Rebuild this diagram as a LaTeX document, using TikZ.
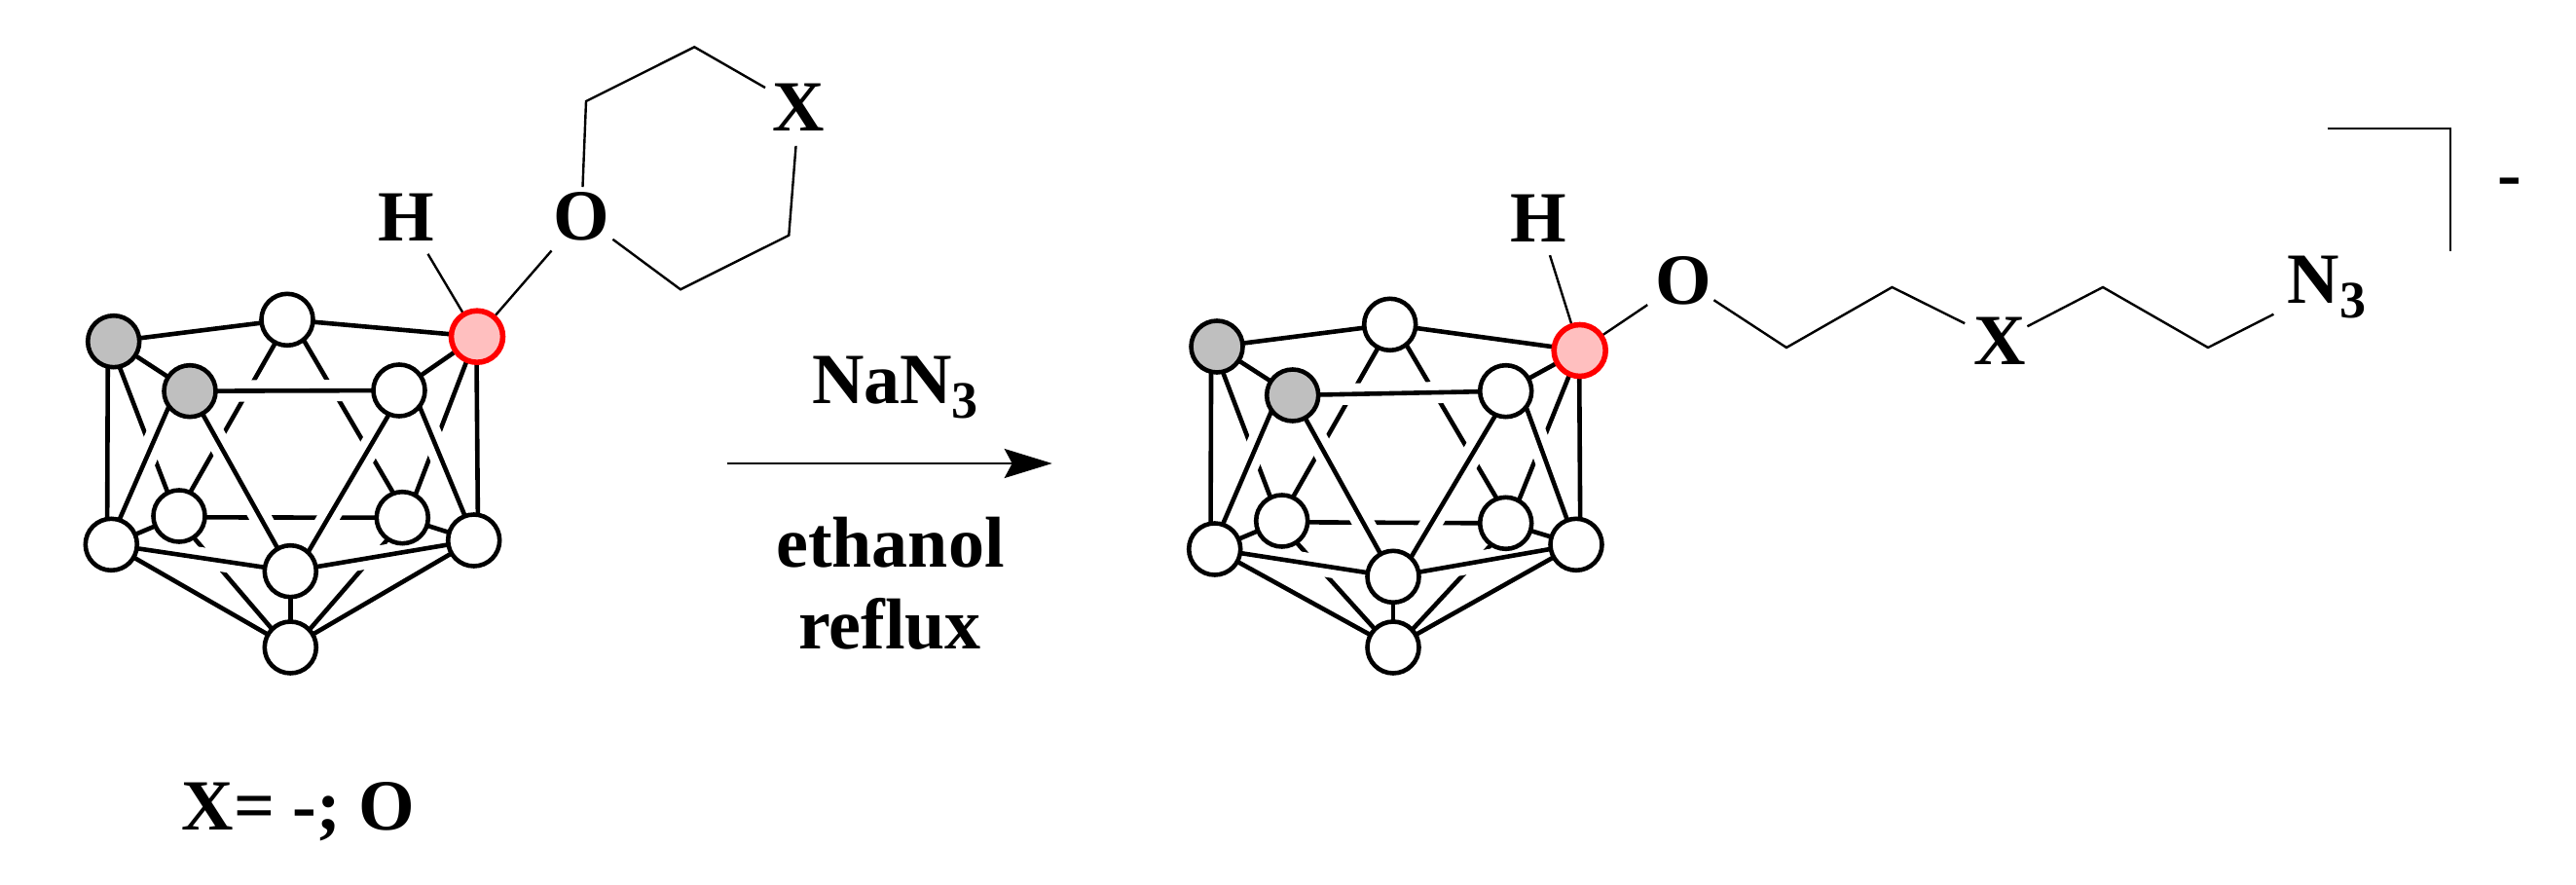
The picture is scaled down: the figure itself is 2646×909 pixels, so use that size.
\documentclass[tikz,border=0pt]{standalone}
\usepackage{fontspec}
\setmainfont{Liberation Serif}
\usetikzlibrary{arrows.meta,backgrounds}
\newcommand{\subthree}{\raisebox{-7.5pt}{\fontsize{27}{27}\selectfont 3}}
\tikzset{
  cagebond/.style={line width=2.3pt},
  hiddenbond/.style={line width=2.3pt},
  halobond/.style={draw=white,line width=11pt},
  thinbond/.style={line width=1.2pt},
  boron/.style={circle,draw,line width=2.3pt,fill=white,inner sep=0pt,outer sep=0pt,minimum size=26.5pt},
  carbon/.style={boron,fill=gray!50!white},
  active/.style={boron,draw=red,fill=red!25!white,line width=2.8pt},
  atom/.style={circle,inner sep=0pt,outer sep=0pt,minimum size=40pt,font=\bfseries\fontsize{37}{42}\selectfont},
  label/.style={font=\bfseries\fontsize{37}{42}\selectfont,anchor=base,inner sep=0pt}
}
\newcommand{\cagebonds}[1]{
  % hidden edges first, then a white halo, then the front edges
  \draw[hiddenbond] (#1a.-77) to (#1i.116);
  \draw[hiddenbond] (#1t.-117) to (#1i.65);
  \draw[hiddenbond] (#1t.-51) to (#1j.110);
  \draw[hiddenbond] (#1r.-113) to (#1j.60);
  \draw[hiddenbond] (#1i.-3) to (#1j.180);
  \draw[hiddenbond] (#1i.-56) to (#1p.135);
  \draw[hiddenbond] (#1j.-124) to (#1p.43);
  \draw[halobond] (#1b) to (#1f);
  \draw[halobond] (#1b.-144) to (#1l.72);
  \draw[halobond] (#1b) to (#1c);
  \draw[halobond] (#1f.-113) to (#1c.47);
  \draw[halobond] (#1f.-38) to (#1s.110);
  \draw[halobond] (#1l) to (#1c);
  \draw[halobond] (#1s) to (#1c);
  \draw[cagebond] (#1a) to (#1b);
  \draw[cagebond] (#1a) to (#1t);
  \draw[cagebond] (#1t) to (#1r);
  \draw[cagebond] (#1r) to (#1f);
  \draw[cagebond] (#1b) to (#1f);
  \draw[cagebond] (#1a.-103) to (#1l.99);
  \draw[cagebond] (#1r.-91) to (#1s.81);
  \draw[cagebond] (#1b.-144) to (#1l.72);
  \draw[cagebond] (#1b) to (#1c);
  \draw[cagebond] (#1f.-113) to (#1c.47);
  \draw[cagebond] (#1f.-38) to (#1s.110);
  \draw[cagebond] (#1l) to (#1c);
  \draw[cagebond] (#1s) to (#1c);
  \draw[cagebond] (#1l) to (#1p);
  \draw[cagebond] (#1s) to (#1p);
  \draw[cagebond] (#1c) to (#1p);
  \draw[cagebond] (#1l) to (#1i);
  \draw[cagebond] (#1s) to (#1j);
}
\begin{document}
\begin{tikzpicture}[x=0.5pt,y=-0.5pt]
  \useasboundingbox (0,0) rectangle (2646,909);
  % left cage
  \node[carbon] (la) at (116.7,350.7) {};
  \node[carbon] (lb) at (195,401.7) {};
  \node[boron] (lt) at (295,328.3) {};
  \node[active] (lr) at (490,345.7) {};
  \node[boron] (lf) at (410,401) {};
  \node[boron] (ll) at (114.3,559.3) {};
  \node[boron] (li) at (184,530) {};
  \node[boron] (lj) at (413.3,531.7) {};
  \node[boron] (ls) at (486.7,555) {};
  \node[boron] (lc) at (298.3,586.7) {};
  \node[boron] (lp) at (298.3,665) {};
  % right cage
  \node[carbon] (ra) at (1250,356) {};
  \node[carbon] (rb) at (1327.7,406) {};
  \node[boron] (rt) at (1427.7,333.3) {};
  \node[active] (rr) at (1622.7,360) {};
  \node[boron] (rf) at (1546.7,401.7) {};
  \node[boron] (rl) at (1247.7,564) {};
  \node[boron] (ri) at (1316.7,535) {};
  \node[boron] (rj) at (1546.7,537.3) {};
  \node[boron] (rs) at (1619,559.3) {};
  \node[boron] (rc) at (1431,592.3) {};
  \node[boron] (rp) at (1431,665) {};
  % left substituent
  \node[atom] (hl) at (417,223) {H};
  \node[atom] (ol) at (597.3,222) {O};
  \node[atom] (xl) at (820.7,110) {X};
  \coordinate (ring1) at (602,104);
  \coordinate (ring2) at (713.3,48.3);
  \coordinate (ring3) at (810.3,241.7);
  \coordinate (ring4) at (699,297.3);
  % right substituent
  \node[atom] (hr) at (1580,224) {H};
  \node[atom] (or) at (1729.5,288) {O};
  \node[atom] (xr) at (2054,350) {X};
  \node[font=\bfseries\fontsize{37}{42}\selectfont,inner ysep=0pt,inner xsep=7pt] (azide) at (2390,295) {N\subthree};
  \coordinate (chain1) at (1835,357);
  \coordinate (chain2) at (1943.5,295);
  \coordinate (chain3) at (2160,295);
  \coordinate (chain4) at (2268,357);
  % bracket
  \coordinate (brack1) at (2390.5,132);
  \coordinate (brack2) at (2517,132);
  \coordinate (brack3) at (2517,258);
  \node[label] (charge) at (2578,204) {-};
  % reaction arrow
  \coordinate (arrow1) at (746.7,476);
  \coordinate (arrow2) at (1080.7,476);
  \node[label] (reagent) at (919.5,415) {NaN\subthree};
  \node[label] (solvent) at (914.5,582.7) {ethanol};
  \node[label] (reflux) at (914,666.7) {reflux};
  \node[label] (caption) at (306.5,852) {X= -; O};
  \begin{scope}[on background layer]
    \cagebonds{l}
    \cagebonds{r}
    \draw[thinbond,shorten <=2pt] (hl) to (lr);
    \draw[thinbond,shorten <=3.5pt] (ol) to (lr);
    \draw[thinbond,shorten <=-5pt] (ol) to (ring1) to (ring2) to (xl);
    \draw[thinbond] (xl) to (ring3) to (ring4) to (ol);
    \draw[thinbond] (hr) to (rr);
    \draw[thinbond,shorten <=2.5pt] (or) to (rr);
    \draw[thinbond,shorten <=-1.5pt] (or) to (chain1) to (chain2) to (xr);
    \draw[thinbond,shorten <=-4pt] (xr) to (chain3) to (chain4) to (azide);
    \draw[thinbond] (brack1) to (brack2) to (brack3);
    \draw[thinbond,-{Stealth[length=24.5pt,width=15pt,inset=4pt]}] (arrow1) to (arrow2);
  \end{scope}
\end{tikzpicture}
\end{document}
